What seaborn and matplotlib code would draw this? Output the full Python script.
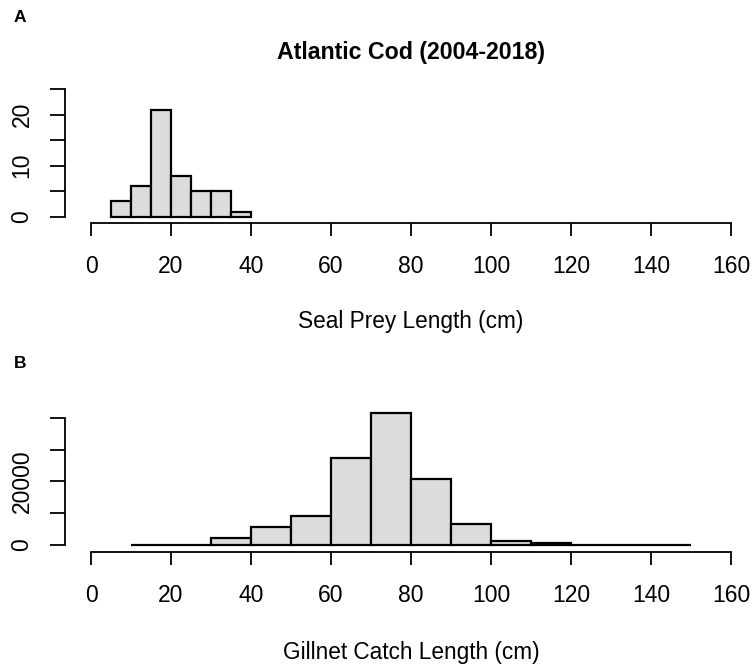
import matplotlib
matplotlib.use("Agg")
import matplotlib.pyplot as plt
import seaborn as sns
import numpy as np

# ---- data ----
seal_edges = [5, 10, 15, 20, 25, 30, 35, 40]
seal_counts = [3, 6, 21, 8, 5, 5, 1]

gill_edges = [10, 20, 30, 40, 50, 60, 70, 80, 90, 100, 110, 120, 130, 140, 150]
gill_counts = [20, 100, 2200, 5670, 9230, 27300, 41700, 20800, 6520, 1350, 530, 80, 30, 10]

x_ticks = [0, 20, 40, 60, 80, 100, 120, 140, 160]
seal_yticks = [0, 5, 10, 15, 20, 25]
seal_ylabels = ["0", "", "10", "", "20", ""]
gill_yticks = [0, 10000, 20000, 30000, 40000]
gill_ylabels = ["0", "", "20000", "", ""]

title = "Atlantic Cod (2004-2018)"
seal_xlabel = "Seal Prey Length (cm)"
gill_xlabel = "Gillnet Catch Length (cm)"

sns.set_theme(style="white")
plt.rcParams["font.family"] = ["Liberation Sans", "DejaVu Sans"]
plt.rcParams["text.color"] = "black"
plt.rcParams["axes.labelcolor"] = "black"
plt.rcParams["xtick.color"] = "black"
plt.rcParams["ytick.color"] = "black"

W, H = 753, 665
fig = plt.figure(figsize=(W / 100, H / 100), dpi=100)
fig.patch.set_facecolor("white")


def frac(l, t, r, b):
    return [l / W, 1 - b / H, (r - l) / W, (b - t) / H]


FILL = "#dcdcdc"


def draw(ax, edges, counts, yticks, ylabels, ylim):
    centers = [(a + b) / 2 for a, b in zip(edges[:-1], edges[1:])]
    sns.histplot(x=centers, weights=counts, bins=edges, ax=ax, color=FILL,
                 edgecolor="black", linewidth=1.6, alpha=1, stat="count")
    ax.set_xlim(-6.4, 165.5)
    ax.set_ylim(*ylim)
    ax.set_xlabel("")
    ax.set_ylabel("")
    for s in ["top", "right"]:
        ax.spines[s].set_visible(False)
    ax.spines["left"].set_bounds(yticks[0], yticks[-1])
    ax.spines["bottom"].set_bounds(0, 160)
    for s in ["left", "bottom"]:
        ax.spines[s].set_color("black")
        ax.spines[s].set_linewidth(1.3)
    ax.set_xticks(x_ticks)
    ax.set_xticklabels([str(t) for t in x_ticks])
    ax.set_yticks(yticks)
    ax.set_yticklabels(ylabels, rotation=90, va="center")
    ax.tick_params(axis="x", which="major", bottom=True, top=False, direction="out",
                   length=9, width=1.3, color="black", pad=14, labelsize=16.5,
                   labelcolor="black")
    ax.tick_params(axis="y", which="major", left=True, right=False, direction="out",
                   length=11, width=1.3, color="black", pad=12, labelsize=16.5,
                   labelcolor="black")
    ax.set_facecolor("white")
    ax.grid(False)


ax1 = fig.add_axes(frac(65.4, 84.1, 753, 222.7))
draw(ax1, seal_edges, seal_counts, seal_yticks, seal_ylabels, (-1.18, 26))

ax2 = fig.add_axes(frac(65.4, 407.2, 753, 551.7))
draw(ax2, gill_edges, gill_counts, gill_yticks, gill_ylabels, (-2110, 43400))

fig.text(411 / W, 1 - 53 / H, title, ha="center", va="center",
         fontsize=16.7, fontweight="bold", color="black")
fig.text(411 / W, 1 - 322 / H, seal_xlabel, ha="center", va="center",
         fontsize=16.3, color="black")
fig.text(411 / W, 1 - 652 / H, gill_xlabel, ha="center", va="center",
         fontsize=16.3, color="black")
fig.text(14 / W, 1 - 18 / H, "A", ha="left", va="center", fontsize=12.5,
         fontweight="bold", color="black")
fig.text(14 / W, 1 - 364 / H, "B", ha="left", va="center", fontsize=12.5,
         fontweight="bold", color="black")

fig.savefig("out.png", dpi=100, facecolor="white")
